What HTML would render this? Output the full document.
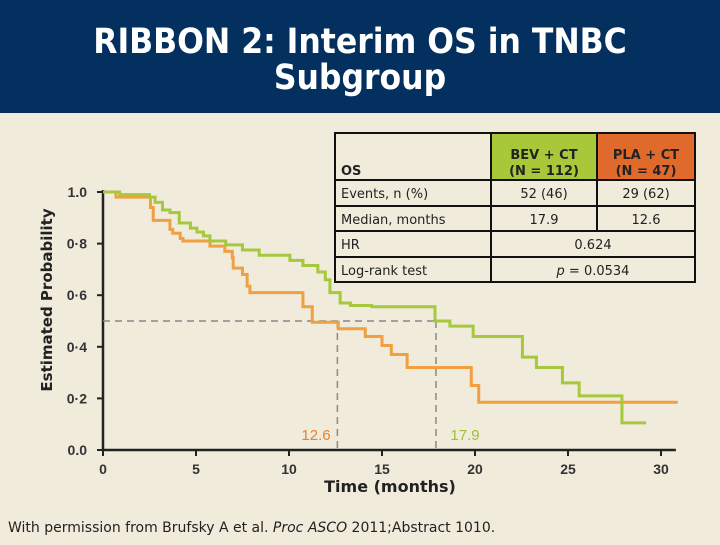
<!DOCTYPE html>
<html><head><meta charset="utf-8"><style>
body{margin:0;width:720px;height:540px;overflow:hidden;background:#f1ebdc;font-family:"Liberation Sans","DejaVu Sans",sans-serif}
</style></head><body>
<svg id="chart" width="720" height="540" xmlns="http://www.w3.org/2000/svg">
<rect x="0" y="0" width="720" height="540" fill="#f1ebdc"/>
<rect x="0" y="0" width="720" height="113" fill="#03305e"/>
<text x="360" y="53" text-anchor="middle" fill="#fff" font-size="35" font-weight="bold" font-family="DejaVu Sans Condensed, DejaVu Sans, sans-serif">RIBBON 2: Interim OS in TNBC</text>
<text x="360" y="89" text-anchor="middle" fill="#fff" font-size="35" font-weight="bold" font-family="DejaVu Sans Condensed, DejaVu Sans, sans-serif">Subgroup</text>
<text transform="translate(52,300) rotate(-90)" text-anchor="middle" font-size="15" font-weight="bold" fill="#222" font-family="DejaVu Sans, sans-serif">Estimated Probability</text>
<text x="390" y="492" text-anchor="middle" font-size="16" font-weight="bold" fill="#222" font-family="DejaVu Sans, sans-serif">Time (months)</text>
<text x="8" y="532" font-size="14" fill="#222" font-family="DejaVu Sans, sans-serif">With permission from Brufsky A et al. <tspan font-style="italic">Proc ASCO</tspan> 2011;Abstract 1010.</text>
<g id="axes"></g>
<g id="series"></g>
<g font-family="DejaVu Sans, sans-serif" font-size="13" fill="#222">
<rect x="491" y="133" width="106" height="47" fill="#a8c83a"/>
<rect x="597" y="133" width="98" height="47" fill="#e06a2b"/>
<g stroke="#111" stroke-width="2" fill="none">
<rect x="335" y="133" width="360" height="149"/>
<line x1="335" y1="180" x2="695" y2="180"/><line x1="335" y1="206" x2="695" y2="206"/>
<line x1="335" y1="231" x2="695" y2="231"/><line x1="335" y1="257" x2="695" y2="257"/>
<line x1="491" y1="133" x2="491" y2="282"/><line x1="597" y1="133" x2="597" y2="231"/>
</g>
<text x="341" y="175" font-weight="bold">OS</text>
<text x="544" y="159" text-anchor="middle" font-weight="bold">BEV + CT</text>
<text x="544" y="175" text-anchor="middle" font-weight="bold">(N = 112)</text>
<text x="646" y="159" text-anchor="middle" font-weight="bold">PLA + CT</text>
<text x="646" y="175" text-anchor="middle" font-weight="bold">(N = 47)</text>
<text x="341" y="198">Events, n (%)</text>
<text x="544" y="198" text-anchor="middle">52 (46)</text>
<text x="646" y="198" text-anchor="middle">29 (62)</text>
<text x="341" y="224">Median, months</text>
<text x="544" y="224" text-anchor="middle">17.9</text>
<text x="646" y="224" text-anchor="middle">12.6</text>
<text x="341" y="249">HR</text>
<text x="593" y="249" text-anchor="middle">0.624</text>
<text x="341" y="275">Log-rank test</text>
<text x="593" y="275" text-anchor="middle"><tspan font-style="italic">p</tspan> = 0.0534</text>
</g>
<text x="316" y="440" text-anchor="middle" font-size="15" fill="#e8822a">12.6</text>
<text x="465" y="440" text-anchor="middle" font-size="15" fill="#9cc232">17.9</text>
</svg>
<script>
const xTicks=[0,5,10,15,20,25,30];
const yTicks=[0,0.2,0.4,0.6,0.8,1.0];
const yTickLabels=["0.0","0·2","0·4","0·6","0·8","1.0"];
const bevTimes=[0,0.9,2.5,2.8,3.2,3.6,4.1,4.7,5.05,5.4,5.75,6.6,7.5,8.4,10.05,10.75,11.55,11.95,12.2,12.75,13.3,14.45,17.85,18.65,19.9,22.55,23.3,24.7,25.6,27.9,29.2];
const bevSurv=[1.0,0.99,0.98,0.96,0.93,0.92,0.88,0.86,0.845,0.83,0.81,0.795,0.775,0.755,0.735,0.715,0.69,0.66,0.61,0.57,0.56,0.555,0.50,0.48,0.44,0.36,0.32,0.26,0.21,0.105,0.105];
const plaTimes=[0,0.7,2.55,2.7,3.6,3.75,4.15,4.3,5.75,6.55,6.95,7.0,7.5,7.75,7.9,10.75,11.25,12.65,14.1,15.0,15.5,16.35,19.8,20.2,30.9];
const plaSurv=[1.0,0.98,0.94,0.89,0.855,0.84,0.82,0.81,0.79,0.77,0.745,0.705,0.68,0.635,0.61,0.555,0.495,0.47,0.44,0.405,0.37,0.32,0.25,0.185,0.185];
const medians=[12.6,17.9];
const NS="http://www.w3.org/2000/svg";
const X=t=>103+t*18.6;
const Y=p=>450-p*258;
function mk(tag,attrs,parent){const e=document.createElementNS(NS,tag);for(const k in attrs)e.setAttribute(k,attrs[k]);parent.appendChild(e);return e;}
const axes=document.getElementById('axes'),series=document.getElementById('series');
let a=mk('line',{x1:X(0),y1:Y(1)-2,x2:X(0),y2:Y(0),stroke:'#222','stroke-width':2.5},axes);


a=mk('line',{x1:X(0),y1:Y(0),x2:X(30.8),y2:Y(0),stroke:'#222','stroke-width':2.5},axes);


xTicks.forEach(t=>{
 const tk=mk('line',{x1:X(t),y1:Y(0),x2:X(t),y2:Y(0)+6,stroke:'#222','stroke-width':2},axes);
 
 
 const tx=mk('text',{x:X(t),y:Y(0)+24,'text-anchor':'middle','font-size':14,'font-weight':'bold',fill:'#333'},axes);
 tx.textContent=t;
 
 
});
yTicks.forEach((v,i)=>{
 const tk=mk('line',{x1:X(0)-6,y1:Y(v),x2:X(0),y2:Y(v),stroke:'#222','stroke-width':2},axes);
 
 
 const tx=mk('text',{x:X(0)-16,y:Y(v)+5,'text-anchor':'end','font-size':14,'font-weight':'bold',fill:'#333'},axes);
 tx.textContent=yTickLabels[i];
 
 
});
let d=mk('path',{d:`M${X(0)} ${Y(0.5)}H${X(medians[1])}M${X(medians[0])} ${Y(0.5)}V${Y(0)}M${X(medians[1])} ${Y(0.5)}V${Y(0)}`,stroke:'#888','stroke-width':1.5,'stroke-dasharray':'7 5',fill:'none'},axes);


function stepPath(ts,ps){let s=`M${X(ts[0])} ${Y(ps[0])}`;for(let i=1;i<ts.length;i++){s+=`H${X(ts[i])}V${Y(ps[i])}`;}return s;}
let p=mk('path',{d:stepPath(plaTimes,plaSurv),stroke:'#f0a040','stroke-width':3,fill:'none'},series);


p=mk('path',{d:stepPath(bevTimes,bevSurv),stroke:'#a6c83c','stroke-width':3,fill:'none'},series);


</script>
</body></html>
